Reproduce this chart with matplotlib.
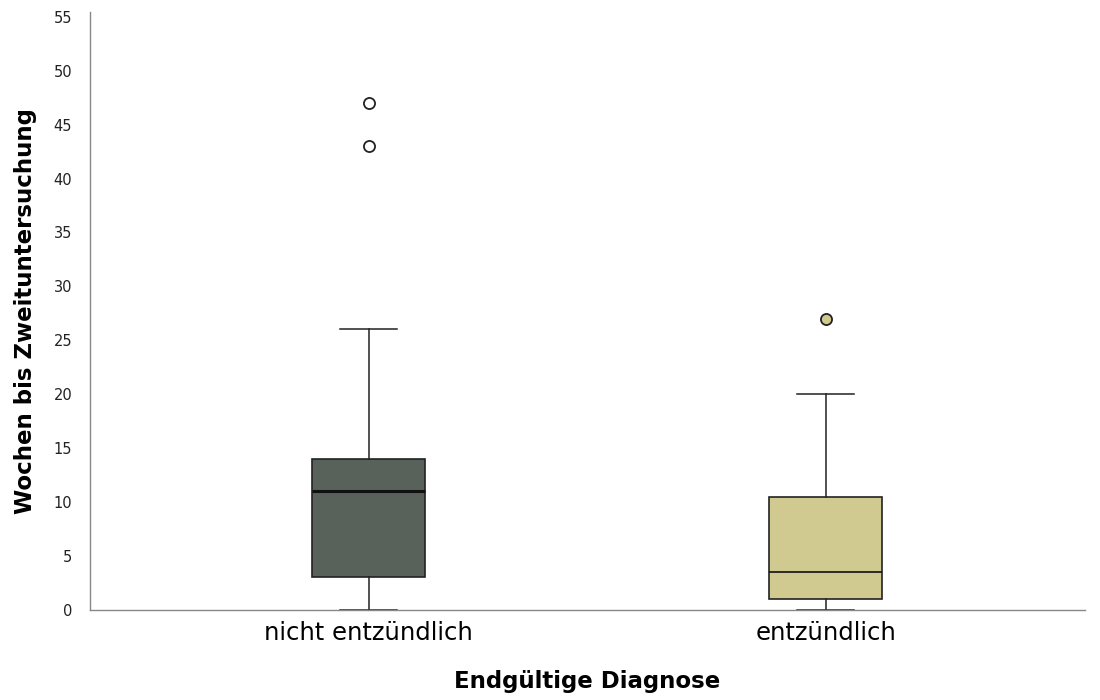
import matplotlib.pyplot as plt

# Box statistics per diagnosis group (weeks until second examination)
categories = ['nicht entzündlich', 'entzündlich']
whisker_low = [0, 0]
q1 = [3, 1]
median = [11, 3.5]
q3 = [14, 10.5]
whisker_high = [26, 20]
outliers = [[43, 47], [27]]

box_colors = ['#58625a', '#d0ca90']
flier_faces = ['white', '#d0ca90']
median_widths = [2.2, 1.2]

fig = plt.figure(figsize=(11, 7), dpi=100)
ax = fig.add_axes([0.082, 0.129, 0.904, 0.854])

for i, name in enumerate(categories):
    stats = [{
        'label': name,
        'whislo': whisker_low[i],
        'q1': q1[i],
        'med': median[i],
        'q3': q3[i],
        'whishi': whisker_high[i],
        'fliers': outliers[i],
    }]
    ax.bxp(stats, positions=[i], widths=0.247, patch_artist=True,
           boxprops=dict(facecolor=box_colors[i], edgecolor='#222222', linewidth=1.2),
           medianprops=dict(color='#111111', linewidth=median_widths[i]),
           whiskerprops=dict(color='#222222', linewidth=1.1),
           capprops=dict(color='#222222', linewidth=1.1),
           capwidths=0.125,
           flierprops=dict(marker='o', markersize=8, markerfacecolor=flier_faces[i],
                           markeredgecolor='#222222', markeredgewidth=1.3))

ax.set_xlim(-0.61, 1.567)
ax.set_ylim(0, 55.46)
ax.set_yticks(range(0, 56, 5))
ax.set_xticks(range(len(categories)))
ax.set_xticklabels(categories, fontsize=17.5)
ax.tick_params(axis='y', length=0, labelsize=10.5, pad=13, labelcolor='#222222')
ax.tick_params(axis='x', length=0, pad=8)

for side in ['top', 'right']:
    ax.spines[side].set_visible(False)
for side in ['left', 'bottom']:
    ax.spines[side].set_color('#888888')
    ax.spines[side].set_linewidth(1.0)

ax.set_xlabel('Endgültige Diagnose', fontsize=16.5, fontweight='bold', labelpad=18)
ax.set_ylabel('Wochen bis Zweituntersuchung', fontsize=16.5, fontweight='bold', labelpad=12)

fig.savefig('out.png', dpi=100)
